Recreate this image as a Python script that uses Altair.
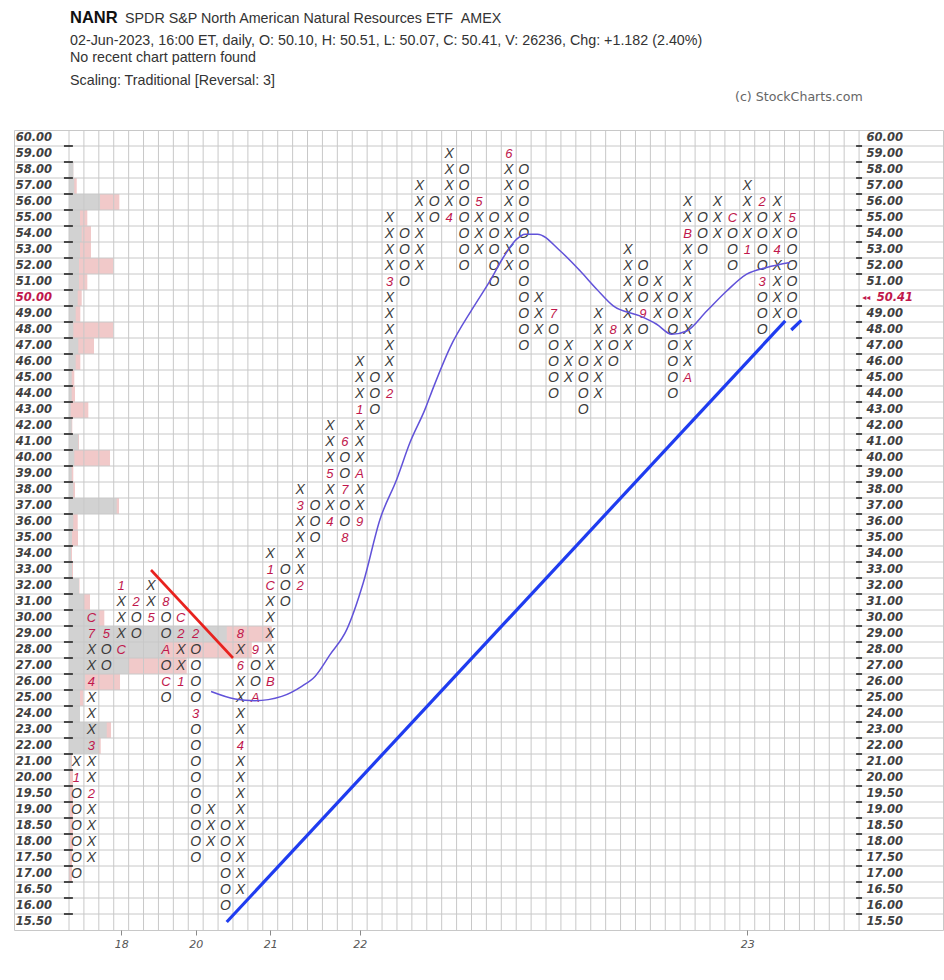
import altair as alt
import pandas as pd

# ---------------- data ----------------
levels = [15.5, 16.0, 16.5, 17.0, 17.5, 18.0, 18.5, 19.0, 19.5, 20.0] + [float(p) for p in range(21, 61)]

# P&F columns: lowest box price and the boxes from bottom to top
# (X / O symbols; digits and A-C are month markers that replace a box)
col_lows = [17, 17.5, 27, 28, 29, 30, 25, 26, 17.5, 18, 16, 16.5, 25, 26, 31, 32, 35, 36, 35, 36,
            43, 44, 51, 52, 55, 55, 52, 53, 51, 52, 47, 48, 44, 45, 43, 44, 46, 47, 48, 49,
            44, 45, 53, 54, 52, 53, 48, 49, 49]
col_boxes = ["OOOOOO1X", "XXXX2XX3XXX4XX7C", "OO5", "CXXX1", "OO2", "5XX", "OCOAOO8", "1XX2C",
             "OOOOOOOOO3OOOO2", "XXX", "OOOOOO", "XXXXXXXXX4XXXX6X8", "AOO9", "BXXXXXC1X", "OOO",
             "2XXXX3X", "OOO", "4XX5XXX", "8OO7OO6", "9XXAXXX1XXX", "OOO", "2XXXXXX3XXXX", "OOOO",
             "XXXXXX", "OO", "4XXXX", "OOOOOOO", "XXX5", "OOOOO", "XXXXXXX6", "OOOOOOOOOOOO", "XXX",
             "OOOOO7", "XXX", "OOOO", "XXXXXX", "OO8", "XXXXXXX", "O9OOO", "XXX", "OOOOOOO",
             "AXXXXXXXXBXX", "OOO", "XXX", "OOOC", "1XXXX", "OOO3OOOO2", "XXXX4XXX", "OOOOOO5"]

# volume-at-price (per level, bottom to top): down part (grey) and total (grey + pink)
vol_grey = [0, 0, 0, 0, 1, 1, 1, 1, 1, 1, 2, 29.3, 37.7, 11, 11, 16, 59.3, 96, 157.7, 29.3,
            15, 10, 3, 2, 3, 4.3, 47.7, 4.3, 2.7, 5.3, 9.3, 2.7, 1.7, 2.7, 2.7, 6.7, 9.3, 4.3, 6.7, 8.7,
            10, 10, 11, 12.7, 11, 31, 5.3, 4.3, 0, 0]
vol_total = [0, 0, 0, 3, 3, 4, 4, 4, 4, 4, 3, 31.7, 42, 11, 14.3, 51, 117.7, 182.7, 202.7, 35.3,
             21, 10.5, 4, 3, 9, 8.7, 50, 6, 4.3, 41, 10, 3.3, 19.3, 6, 5.3, 11.3, 25, 44.3, 11.3, 12.7,
             18.3, 44.3, 22, 22, 18.3, 50.3, 7.7, 4.3, 0, 0]
VOL_PER_COL = 14.9

# trend lines (column position, price)
red_col = [5.0, 10.5]
red_price = [33.0, 27.5]
blue_col = [10.08, 47.55]
blue_price = [15.5, 48.57]
blue2_col = [47.95, 48.62]
blue2_price = [48.0, 48.6]

# moving average (column position, price)
ma_col = [9.03, 10.64, 11.98, 13.77, 15.11, 16.0, 17.01, 18.13, 19.24, 20.36, 21.48, 22.38, 23.38,
          23.94, 25.06, 26.62, 27.74, 28.63, 29.53, 30.09, 30.92, 32.44, 33.78, 34.9, 36.01, 37.8,
          38.92, 39.93, 40.94, 42.28, 43.62, 44.96, 46.3, 47.87]
ma_price = [25.41, 24.94, 24.83, 25.1, 25.73, 26.35, 27.71, 29.27, 32.2, 36.16, 38.66, 40.98, 43.04,
            44.4, 46.9, 49.41, 51.07, 52.53, 53.68, 53.99, 53.99, 52.95, 51.7, 50.55, 49.51, 48.88,
            48.36, 47.73, 47.94, 49.19, 50.44, 51.49, 51.91, 52.22]

year_cols = [3, 8, 13, 19, 45]
year_labels = ["18", "20", "21", "22", "23"]
last_price = 50.41
N_COLS = 53

header_title = "NANR"
header_name = "SPDR S&P North American Natural Resources ETF\u00a0\u00a0AMEX"
header_line2 = "02-Jun-2023, 16:00 ET, daily, O: 50.10, H: 50.51, L: 50.07, C: 50.41, V: 26236, Chg: +1.182 (2.40%)"
header_line3 = "No recent chart pattern found"
header_line4 = "Scaling: Traditional [Reversal: 3]"
copyright_txt = "(c) StockCharts.com"


def level_index(p):
    return (p - 15.5) * 2 if p <= 20 else p - 11


# ---------------- frame geometry (column / level units) ----------------
XMIN, XMAX = -4.19, 58.13
YMIN, YMAX = -0.5, 49.5
LEFT_LABEL_X = -4.08
RIGHT_LABEL_X = 53.0

# ---------------- tables ----------------
rows = []
for c, (low, s) in enumerate(zip(col_lows, col_boxes)):
    start = levels.index(float(low))
    for k, ch in enumerate(s):
        rows.append({"col": c, "idx": start + k, "ch": ch,
                     "kind": "sym" if ch in "XO" else "mark"})
boxes = pd.DataFrame(rows)
syms = boxes[boxes.kind == "sym"]
marks = boxes[boxes.kind == "mark"]

vol = pd.DataFrame({"idx": list(range(len(levels))), "g": vol_grey, "t": vol_total})
vol["x0"] = -0.5
vol["gx"] = -0.5 + vol["g"] / VOL_PER_COL
vol["tx"] = -0.5 + vol["t"] / VOL_PER_COL
vol["y0"] = vol["idx"] - 0.5
vol["y1"] = vol["idx"] + 0.5
vol = vol[vol.t > 0]

lab = pd.DataFrame({"idx": list(range(len(levels))), "p": levels})
lab["txt"] = lab["p"].map(lambda v: f"{v:.2f}")
lab["lx"] = LEFT_LABEL_X
lab["rx"] = RIGHT_LABEL_X
lab["clr"] = ["#c0174c" if p == 50.0 else "#404040" for p in levels]
rlab = lab[lab.p != 50.0]

hb = pd.DataFrame({"b": [i + 0.5 for i in range(len(levels) - 1)]})
hb["x0"] = XMIN
hb["x1"] = XMAX
hb["l0"] = -0.84
hb["l1"] = -0.24
hb["r0"] = 52.3
hb["r1"] = 52.7
vb = pd.DataFrame({"c": [k - 0.5 for k in range(N_COLS + 1)]})
vb["y0"] = YMIN
vb["y1"] = YMAX

def line_df(cols, prices):
    return pd.DataFrame({"col": cols, "idx": [level_index(p) for p in prices], "o": list(range(len(cols)))})

red_df = line_df(red_col, red_price)
blue_df = line_df(blue_col, blue_price)
blue2_df = line_df(blue2_col, blue2_price)
ma_df = line_df(ma_col, ma_price)

cur_df = pd.DataFrame({"idx": [level_index(50.0)], "txt": [f"{last_price:.2f}"], "arr": ["◂◂"],
                       "ax": [52.72], "tx": [53.68]})

# ---------------- chart ----------------
xs = alt.Scale(domain=[XMIN, XMAX], nice=False, zero=False)
ys = alt.Scale(domain=[YMIN, YMAX], nice=False, zero=False)

label_expr = " : ".join([f"datum.value == {c} ? '{l}'" for c, l in zip(year_cols, year_labels)]) + " : ''"
xaxis = alt.Axis(values=year_cols, labelExpr=label_expr, domain=False, grid=False, ticks=True,
                 tickSize=5, tickColor="#8a8a8a", labelColor="#555555", labelFont="DejaVu Sans",
                 labelFontStyle="italic", labelFontSize=11, labelPadding=3, title=None,
                 labelFlush=False, labelOverlap=False)

GRID = "#c8c8c8"
SYM = dict(font="Liberation Sans", fontStyle="italic")

def X(f):
    return alt.X(f, type="quantitative", scale=xs, axis=xaxis)

def Y(f):
    return alt.Y(f, type="quantitative", scale=ys, axis=None)

pink = alt.Chart(vol).mark_rect(color="#f1c9c9").encode(x=X("x0"), x2="tx:Q", y=Y("y0"), y2="y1:Q")
grey = alt.Chart(vol).mark_rect(color="#d2d2d2").encode(x=X("x0"), x2="gx:Q", y=Y("y0"), y2="y1:Q")

hgrid = alt.Chart(hb).mark_rule(color=GRID, strokeWidth=1).encode(y=Y("b"), x=X("x0"), x2="x1:Q")
vgrid = alt.Chart(vb).mark_rule(color=GRID, strokeWidth=1).encode(x=X("c"), y=Y("y0"), y2="y1:Q")

lticks = alt.Chart(hb).mark_rule(color="#222222", strokeWidth=1.6).encode(y=Y("b"), x=X("l0"), x2="l1:Q")
rticks = alt.Chart(hb[hb.b != 39.5]).mark_rule(color="#222222", strokeWidth=1.6).encode(
    y=Y("b"), x=X("r0"), x2="r1:Q")

sym_layer = alt.Chart(syms).mark_text(fontSize=14, color="#3a3a3a", baseline="middle", **SYM).encode(
    x=X("col"), y=Y("idx"), text="ch:N")
mark_layer = alt.Chart(marks).mark_text(fontSize=13, color="#c0174c", baseline="middle", **SYM).encode(
    x=X("col"), y=Y("idx"), text="ch:N")

LAB = dict(font="DejaVu Sans", fontStyle="italic", fontWeight="bold", fontSize=11.5)
llab = alt.Chart(lab).mark_text(align="left", baseline="middle", **LAB).encode(
    x=X("lx"), y=Y("idx"), text="txt:N", color=alt.Color("clr:N", scale=None))
rlab_layer = alt.Chart(rlab).mark_text(align="left", baseline="middle", color="#404040", **LAB).encode(
    x=X("rx"), y=Y("idx"), text="txt:N")
cur_arrow = alt.Chart(cur_df).mark_text(fontSize=8, align="left", baseline="middle", color="#c0174c",
                                        font="DejaVu Sans").encode(x=X("ax"), y=Y("idx"), text="arr:N")
cur_txt = alt.Chart(cur_df).mark_text(align="left", baseline="middle", color="#c0174c", **LAB).encode(
    x=X("tx"), y=Y("idx"), text="txt:N")

def trend(df, color, width, interp="linear"):
    return alt.Chart(df).mark_line(color=color, strokeWidth=width, interpolate=interp).encode(
        x=X("col"), y=Y("idx"), order="o:Q")

red = trend(red_df, "#e8221e", 2.6)
blue = trend(blue_df, "#1f3cf0", 3.2)
blue2 = trend(blue2_df, "#1f3cf0", 3.2)
ma = trend(ma_df, "#6152d9", 1.5, "monotone")

def header(txt, x, y, size, weight="normal", color="#222222", font="Liberation Sans"):
    return alt.Chart(pd.DataFrame({"t": [txt]})).mark_text(
        align="left", baseline="middle", fontSize=size, fontWeight=weight, color=color, font=font
    ).encode(x=alt.value(x), y=alt.value(y), text="t:N")

h1 = header(header_title, 56, -112, 16.5, "bold", "#111111")
h2 = header(header_name, 111, -111, 14.3, "normal", "#333333")
h3 = header(header_line2, 56, -89, 14.3, "normal", "#333333")
h4 = header(header_line3, 56, -72, 14.3, "normal", "#333333")
h5 = header(header_line4, 56, -49, 14.3, "normal", "#333333")
h6 = header(copyright_txt, 721, -33, 12.6, "normal", "#666666", "DejaVu Sans")

chart = alt.layer(
    pink, grey, hgrid, vgrid, lticks, rticks, sym_layer, mark_layer, llab, rlab_layer,
    cur_arrow, cur_txt, red, blue, blue2, ma, h1, h2, h3, h4, h5, h6
).properties(
    width=929, height=800,
    autosize=alt.AutoSizeParams(type="none"),
    padding={"left": 14, "top": 130, "right": 1, "bottom": 50},
    background="white",
).configure_view(stroke=GRID, strokeWidth=1)

chart.save("out.html", embed_options={"renderer": "svg", "actions": False})
